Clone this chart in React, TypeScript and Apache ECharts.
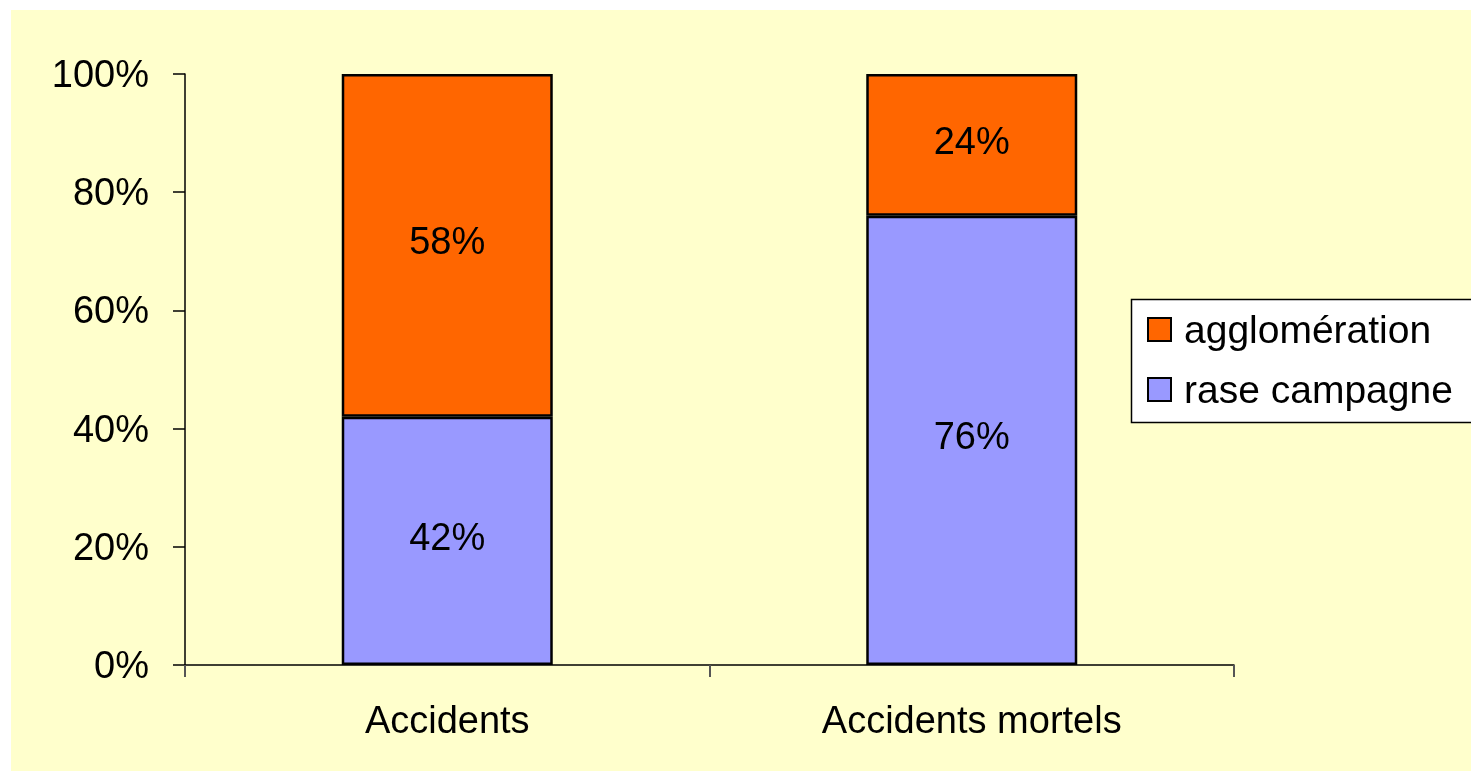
import React, { useEffect, useRef } from "react";
import * as echarts from "echarts";

const categories = ["Accidents", "Accidents mortels"];
const agglomeration = [58, 24];
const raseCampagne = [42, 76];
const seriesNames = ["agglomération", "rase campagne"];
const yTicks = [0, 20, 40, 60, 80, 100];

const FONT = "'Liberation Sans', Arial, sans-serif";

export default function App() {
  const ref = useRef<HTMLDivElement>(null);
  useEffect(() => {
    if (!ref.current) return;
    const chart = echarts.init(ref.current, undefined, { renderer: "svg" });
    const label = {
      show: true,
      position: "inside",
      offset: [0, -4],
      formatter: "{c}%",
      fontSize: 38,
      color: "#000",
      fontFamily: FONT,
    };
    chart.setOption({
      animation: false,
      textStyle: { fontFamily: FONT },
      graphic: [
        {
          type: "rect",
          z: -10,
          silent: true,
          shape: { x: 11, y: 10, width: 1460, height: 761 },
          style: { fill: "#FFFFCC" },
        },
        {
          type: "rect",
          z: 1,
          silent: true,
          shape: { x: 1131.5, y: 299.5, width: 360, height: 123 },
          style: { fill: "#FFFFFF", stroke: "#000000", lineWidth: 1.5 },
        },
      ],
      grid: { left: 185, right: 237, top: 74, bottom: 106, containLabel: false },
      legend: {
        orient: "vertical",
        left: 1142,
        top: 305,
        itemWidth: 23,
        itemHeight: 23,
        itemGap: 21,
        icon: "rect",
        data: [seriesNames[0], seriesNames[1]],
        textStyle: { fontSize: 39, color: "#000", fontFamily: FONT, padding: [0, 0, 0, 8] },
        itemStyle: { borderColor: "#000", borderWidth: 2 },
      },
      xAxis: {
        type: "category",
        data: categories,
        boundaryGap: true,
        axisLine: { lineStyle: { color: "#000", width: 1.5 } },
        axisTick: { show: true, length: 12, inside: false, lineStyle: { color: "#555", width: 2 } },
        axisLabel: { fontSize: 38, color: "#000", margin: 36, fontFamily: FONT },
      },
      yAxis: {
        type: "value",
        min: 0,
        max: 100,
        interval: 20,
        splitLine: { show: false },
        axisLine: { show: true, lineStyle: { color: "#000", width: 1.5 } },
        axisTick: { show: true, length: 12, lineStyle: { color: "#000", width: 1.5 } },
        axisLabel: {
          fontSize: 38,
          color: "#000",
          margin: 36,
          fontFamily: FONT,
          formatter: (v: number) => (yTicks.includes(v) ? v + "%" : ""),
        },
      },
      series: [
        {
          name: seriesNames[1],
          type: "bar",
          stack: "total",
          data: raseCampagne,
          barWidth: 211,
          itemStyle: { color: "#9999FF", borderColor: "#000", borderWidth: 2.5 },
          label,
        },
        {
          name: seriesNames[0],
          type: "bar",
          stack: "total",
          data: agglomeration,
          barWidth: 211,
          itemStyle: { color: "#FF6600", borderColor: "#000", borderWidth: 2.5 },
          label,
        },
      ],
    });
    return () => chart.dispose();
  }, []);
  return (
    <div
      ref={ref}
      style={{ position: "fixed", left: 0, top: 0, width: 1471, height: 771 }}
    />
  );
}
